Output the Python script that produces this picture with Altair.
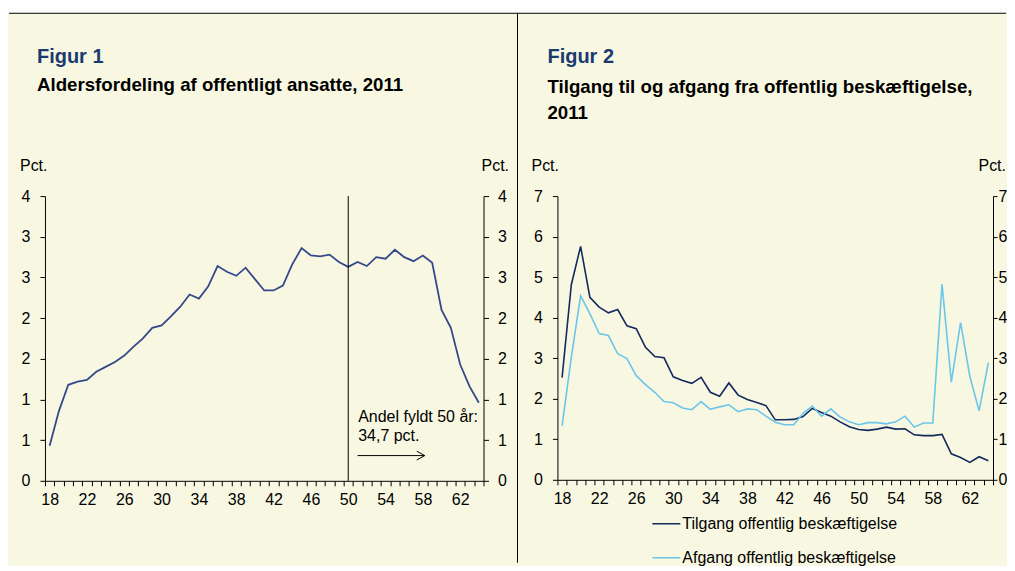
import altair as alt
import pandas as pd

# ---------------- data ----------------
ages = list(range(18, 65))
share = [0.43, 0.86, 1.18, 1.22, 1.24, 1.34, 1.40, 1.46, 1.54, 1.65,
         1.75, 1.88, 1.91, 2.02, 2.14, 2.29, 2.24, 2.39, 2.64, 2.57,
         2.52, 2.62, 2.48, 2.34, 2.34, 2.40, 2.66, 2.86, 2.77, 2.76,
         2.78, 2.69, 2.63, 2.69, 2.64, 2.75, 2.73, 2.84, 2.75, 2.70,
         2.77, 2.68, 2.10, 1.88, 1.43, 1.16, 0.96]
tilgang = [2.52, 4.82, 5.76, 4.50, 4.26, 4.12, 4.20, 3.80, 3.73, 3.27,
           3.04, 3.01, 2.54, 2.45, 2.38, 2.53, 2.16, 2.06, 2.39, 2.09,
           1.98, 1.91, 1.83, 1.48, 1.48, 1.49, 1.56, 1.76, 1.66, 1.57,
           1.43, 1.31, 1.24, 1.22, 1.25, 1.30, 1.25, 1.26, 1.11, 1.09,
           1.09, 1.12, 0.64, 0.55, 0.43, 0.57, 0.47]
afgang = [1.33, 3.03, 4.54, 4.10, 3.61, 3.56, 3.11, 2.99, 2.57, 2.35,
          2.16, 1.93, 1.90, 1.77, 1.73, 1.93, 1.74, 1.80, 1.85, 1.68,
          1.75, 1.73, 1.57, 1.42, 1.36, 1.36, 1.64, 1.82, 1.57, 1.75,
          1.55, 1.43, 1.36, 1.41, 1.41, 1.38, 1.43, 1.57, 1.30, 1.40,
          1.40, 4.83, 2.41, 3.88, 2.55, 1.70, 2.89]
series_names = ["Tilgang offentlig beskæftigelse", "Afgang offentlig beskæftigelse"]
fig1_ticks = [0, 0.5, 1, 1.5, 2, 2.5, 3, 3.5]
fig2_ticks = [0, 1, 2, 3, 4, 5, 6, 7]
x_ticks = [a - 0.5 for a in ages] + [ages[-1] + 0.5]
marker_age = [50]
ann_lines = ["Andel fyldt 50 år:", "34,7 pct."]
ann_ages = [51.07, 51.07]
ann_vals = [0.728, 0.495]
arrow_from, arrow_to, arrow_level = [51.0], [58.2], [0.31]

title1 = "Figur 1"
sub1 = "Aldersfordeling af offentligt ansatte, 2011"
title2 = "Figur 2"
sub2 = ["Tilgang til og afgang fra offentlig beskæftigelse,", "2011"]

# ---------------- style ----------------
FONT = "Liberation Sans"
BG = "#F8F8E2"
C1 = "#34498A"
COLORS2 = ["#14295C", "#6CC6EA"]
TITLE_BLUE = "#1B3A70"
W1, H1 = 439, 285
W2, H2 = 436, 284
SPACING = 74
SUB_SIZE = 18.7

df1 = pd.DataFrame({"age": ages, "share": share})
df2 = pd.concat([
    pd.DataFrame({"age": ages, "serie": series_names[0], "value": tilgang}),
    pd.DataFrame({"age": ages, "serie": series_names[1], "value": afgang}),
])


def x_enc(width, field="age:Q"):
    return alt.X(field, scale=alt.Scale(domain=[17.5, 64.5], nice=False, zero=False),
                 axis=alt.Axis(values=x_ticks, tickSize=5, title=None, grid=False,
                               labelExpr="(datum.value + 0.5) % 4 == 2 ? format(datum.value + 0.5, 'd') : ''",
                               labelOffset=width / 47 / 2, labelFlush=False, labelOverlap=False,
                               labelPadding=6))


def y_enc(field, domain, ticks, orient, pad=10, ts=5):
    return alt.Y(field, scale=alt.Scale(domain=domain, nice=False, zero=True),
                 axis=alt.Axis(orient=orient, values=ticks, tickSize=ts, labelPadding=pad,
                               labelExpr="format(round(datum.value), 'd')", title=None,
                               grid=False, labelOverlap=False))


def ptext(txt, x, y, size=16, bold=False, color="black", align="left", baseline="middle"):
    return alt.Chart(pd.DataFrame({"t": [txt]})).mark_text(
        align=align, baseline=baseline, font=FONT, fontSize=size,
        fontWeight="bold" if bold else "normal", color=color
    ).encode(text="t:N", x=alt.value(x), y=alt.value(y))


one = pd.DataFrame({"k": [0]})

# ---------------- figure 1 ----------------
y1 = lambda f: y_enc(f, [0, 3.5], fig1_ticks, "left")

white_top = alt.Chart(one).mark_rect(color="white").encode(
    x=alt.value(-36), x2=alt.value(962), y=alt.value(-188), y2=alt.value(-183))
top_line = alt.Chart(one).mark_rule(color="black", strokeWidth=1).encode(
    x=alt.value(-36), x2=alt.value(962), y=alt.value(-183))
divider = alt.Chart(one).mark_rule(color="black", strokeWidth=1).encode(
    x=alt.value(473), y=alt.value(-183), y2=alt.value(367))

line1 = alt.Chart(df1).mark_line(color=C1, strokeWidth=1.8).encode(
    x=x_enc(W1), y=y1("share:Q"))

rule50 = alt.Chart(pd.DataFrame({"age": marker_age, "share": [0], "top": [3.5]})).mark_rule(
    color="black", strokeWidth=1).encode(x=x_enc(W1), y=y1("share:Q"), y2="top:Q")

ann = alt.Chart(pd.DataFrame({"age": ann_ages, "share": ann_vals, "t": ann_lines})).mark_text(
    align="left", baseline="alphabetic", font=FONT, fontSize=16, color="black").encode(
    x=x_enc(W1), y=y1("share:Q"), text="t:N")

arrow = alt.Chart(pd.DataFrame({"age": arrow_from, "age2": arrow_to, "share": arrow_level})).mark_rule(
    color="black", strokeWidth=1).encode(x=x_enc(W1), x2="age2:Q", y=y1("share:Q"))
head = alt.Chart(pd.DataFrame({"age": arrow_to, "share": arrow_level})).mark_point(
    shape="M-1,-0.55L0,0L-1,0.55", size=256, color="black", strokeWidth=1, opacity=1,
    filled=False).encode(x=x_enc(W1), y=y1("share:Q"))

right1 = alt.Chart(df1).mark_line(opacity=0).encode(
    x=x_enc(W1), y=y_enc("share:Q", [0, 3.5], fig1_ticks, "right", pad=9))

fig1 = alt.layer(
    alt.layer(
        white_top, top_line, divider, line1, rule50, ann, arrow, head,
        ptext(title1, -8, -139, size=20, bold=True, color=TITLE_BLUE),
        ptext(sub1, -8, -111, size=SUB_SIZE, bold=True),
        ptext("Pct.", -25, -30),
        ptext("Pct.", 437, -30),
    ),
    right1,
).resolve_scale(y="independent").properties(width=W1, height=H1)

# ---------------- figure 2 ----------------
lines2 = alt.Chart(df2).mark_line(strokeWidth=1.6).encode(
    x=x_enc(W2),
    y=y_enc("value:Q", [0, 7], fig2_ticks, "left"),
    color=alt.Color("serie:N", sort=series_names,
                    scale=alt.Scale(domain=series_names, range=COLORS2),
                    legend=alt.Legend(title=None, orient="none", legendX=W1 + SPACING + 94,
                                      legendY=323,
                                      direction="vertical", symbolType="stroke", symbolSize=784,
                                      symbolStrokeWidth=1.5, labelFont=FONT, labelFontSize=16,
                                      labelColor="black", labelOffset=1, rowPadding=18,
                                      clipHeight=10, labelLimit=400)),
)

right2 = alt.Chart(df2).mark_line(opacity=0).encode(
    x=x_enc(W2), y=y_enc("value:Q", [0, 7], fig2_ticks, "right", pad=1, ts=4), detail="serie:N")

fig2 = alt.layer(
    alt.layer(
        lines2,
        ptext(title2, -10, -139, size=20, bold=True, color=TITLE_BLUE),
        ptext(sub2[0], -10, -109, size=SUB_SIZE, bold=True),
        ptext(sub2[1], -10, -83, size=SUB_SIZE, bold=True),
        ptext("Pct.", -26, -30),
        ptext("Pct.", 449, -30, align="right"),
    ),
    right2,
).resolve_scale(y="independent").properties(width=W2, height=H2)

chart = alt.hconcat(fig1, fig2, spacing=SPACING, bounds="flush").properties(padding=0).configure(
    background=BG
).configure_view(strokeWidth=0).configure_axis(
    domainColor="black", tickColor="black", labelColor="black", labelFont=FONT,
    labelFontSize=16, domainWidth=1, tickWidth=1
)

chart.save("out.html", embed_options={"renderer": "svg", "actions": False})
